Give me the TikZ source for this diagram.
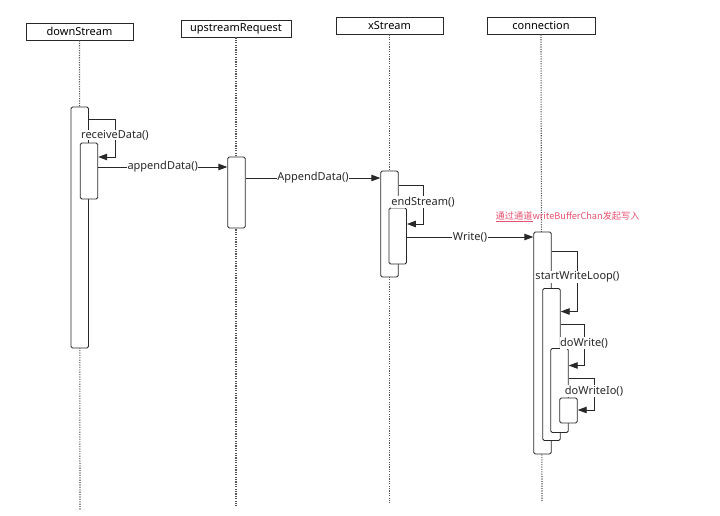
\documentclass[tikz,border=0pt]{standalone}
\usepackage{fontspec}
\setmainfont{Noto Sans}
\newfontfamily\cjk{Noto Sans CJK SC}
\usetikzlibrary{arrows.meta}
\definecolor{ln}{RGB}{40,40,40}
\definecolor{note}{RGB}{232,80,112}
\tikzset{
  head/.style={draw=ln, line width=0.9pt, minimum height=17pt, inner sep=0pt, font=\fontsize{11}{13}\selectfont},
  life/.style={draw=ln!80, line width=1.1pt, dash pattern=on 1.1pt off 1.3pt},
  act/.style={draw=ln, line width=0.9pt, fill=white, rounded corners=1.5pt, minimum width=17.5pt, inner sep=0pt},
  msg/.style={draw=ln, line width=0.9pt, -{Triangle[length=9pt,width=6.5pt]}},
  lbl/.style={fill=white, inner sep=0.5pt, text=ln, font=\fontsize{11}{13}\selectfont}
}
\begin{document}
\begin{tikzpicture}[x=1pt,y=-1pt]
\useasboundingbox (0,0) rectangle (720,516);
% heads
\node[head, minimum width=107pt] (hd) at (79.5,31.5) {downStream};
\node[head, minimum width=110pt] (hu) at (236,28.5) {upstreamRequest};
\node[head, minimum width=107pt] (hx) at (389.5,25.5) {xStream};
\node[head, minimum width=108pt] (hc) at (541,25.5) {connection};
% lifelines
\coordinate (ed) at (80,510);
\coordinate (eu) at (236,506);
\coordinate (ex) at (389.5,503);
\coordinate (ec) at (542,502);
\draw[life] (hd.south) -- (ed);
\draw[life] (hu.south) -- (eu);
\draw[life] (hx.south) -- (ex);
\draw[life] (hc.south) -- (ec);
% activations
\node[act, minimum height=241pt] (d1) at (79.75,227.5) {};
\node[act, minimum height=56pt] (d2) at (89,171) {};
\node[act, minimum height=71pt] (u1) at (236.5,192.5) {};
\node[act, minimum height=106pt] (x1) at (389.5,224) {};
\node[act, minimum height=56pt] (x2) at (397.75,236) {};
\node[act, minimum height=222pt] (c1) at (542.5,343) {};
\node[act, minimum height=152pt] (c2) at (551.5,364.5) {};
\node[act, minimum height=84pt] (c3) at (559.5,390.5) {};
\node[act, minimum height=25pt] (c4) at (568.5,410.5) {};
% self calls
\draw[msg] (d1.east |- 0,119) -- (115,119) |- (d2.east |- 0,157);
\node[lbl] (l1) at (115,135) {receiveData()};
\draw[msg] (x1.east |- 0,185) -- (423,185) |- (x2.east |- 0,224);
\node[lbl] (l2) at (423,202) {endStream()};
\draw[msg] (c1.east |- 0,251) -- (577.5,251) |- (c2.east |- 0,311.5);
\node[lbl] (l3) at (577.5,277) {startWriteLoop()};
\draw[msg] (c2.east |- 0,324.5) -- (584,324.5) |- (c3.east |- 0,365.5);
\node[lbl] (l4) at (584,343) {doWrite()};
\draw[msg] (c3.east |- 0,378) -- (594,378) |- (c4.east |- 0,410);
\node[lbl] (l5) at (594,391) {doWriteIo()};
% messages
\draw[msg] (d2.east |- 0,167) -- node[lbl] {appendData()} (u1.west |- 0,167);
\draw[msg] (u1.east |- 0,178) -- node[lbl] {AppendData()} (x1.west |- 0,178);
\draw[msg] (x2.east |- 0,237) -- node[lbl] {Write()} (c1.west |- 0,237);
% note
\node[anchor=west, inner sep=0pt, text=note, font=\fontsize{9.2}{11}\selectfont\cjk] (nt) at (495.5,217) {\underline{通过通道}writeBufferChan发起写入};
\end{tikzpicture}
\end{document}
